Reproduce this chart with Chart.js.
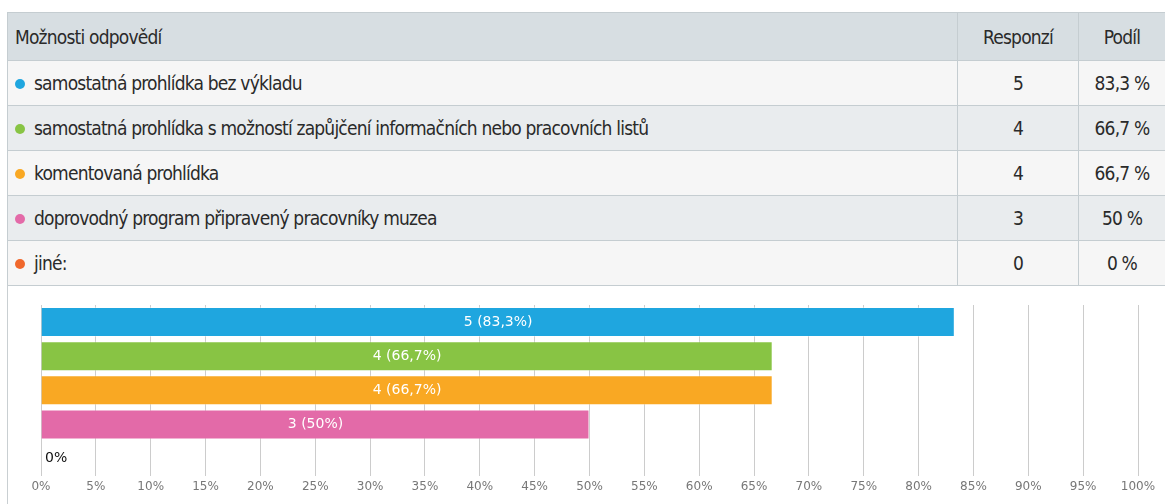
<!DOCTYPE html>
<html>
<head>
<meta charset="utf-8">
<script src="https://cdn.jsdelivr.net/npm/chart.js@4/dist/chart.umd.min.js"></script>
<style>
  html, body { margin: 0; padding: 0; background: #fff; }
  body { width: 1165px; height: 504px; position: relative; overflow: hidden; }
  .frame { position: absolute; left: 7px; top: 285px; width: 1158px; height: 219px; border-left: 1px solid #c9cfd2; box-sizing: border-box; }
  table.answers {
    position: absolute; left: 7px; top: 12px;
    width: 1158px; border-collapse: collapse; table-layout: fixed;
    font-family: "DejaVu Sans Condensed", sans-serif;
    font-size: 19px; letter-spacing: -0.8px; color: #2a2a2a;
  }
  table.answers td, table.answers th {
    border: 1px solid #c5cdd1; padding: 0 7px; font-weight: normal;
    white-space: nowrap; height: 45px; box-sizing: border-box;
  }
  table.answers th { background: #d7dee2; height: 48px; text-align: left; }
  table.answers .num { text-align: center; }
  table.answers tbody tr:nth-child(odd) td { background: #f6f6f6; }
  table.answers tbody tr:nth-child(even) td { background: #e9ecee; }
  .dot { display: inline-block; width: 10px; height: 10px; border-radius: 50%; margin-right: 9px; vertical-align: 1px; }
  .chartbox { position: absolute; left: 8px; top: 285px; width: 1157px; height: 219px; }
</style>
</head>
<body>
<table class="answers">
  <colgroup><col style="width:950px"><col style="width:121px"><col style="width:87px"></colgroup>
  <thead><tr><th>Možnosti odpovědí</th><th class="num">Responzí</th><th class="num">Podíl</th></tr></thead>
  <tbody id="rows"></tbody>
</table>
<div class="frame"></div>
<div class="chartbox"><canvas id="chart"></canvas></div>
<script>
const answers = [
  "samostatná prohlídka bez výkladu",
  "samostatná prohlídka s možností zapůjčení informačních nebo pracovních listů",
  "komentovaná prohlídka",
  "doprovodný program připravený pracovníky muzea",
  "jiné:"
];
const counts = [5, 4, 4, 3, 0];
const shares = [83.3, 66.7, 66.7, 50, 0];
const colors = ["#1fa6df", "#88c444", "#f9a823", "#e36aa8", "#f0682c"];
const xTicks = [0, 5, 10, 15, 20, 25, 30, 35, 40, 45, 50, 55, 60, 65, 70, 75, 80, 85, 90, 95, 100];

const fmt = v => String(v).replace('.', ',');

// table above the chart
const tbody = document.getElementById('rows');
answers.forEach((a, i) => {
  const tr = document.createElement('tr');
  tr.innerHTML = '<td><span class="dot" style="background:' + colors[i] + '"></span>' + a + '</td>' +
    '<td class="num">' + counts[i] + '</td><td class="num">' + fmt(shares[i]) + ' %</td>';
  tbody.appendChild(tr);
});

// bar labels drawn inside the bars, "0%" in black for empty ones
const barLabels = {
  id: 'barLabels',
  afterDatasetsDraw(chart) {
    const ctx = chart.ctx;
    const meta = chart.getDatasetMeta(0);
    ctx.save();
    ctx.font = '14px "DejaVu Sans", sans-serif';
    ctx.textBaseline = 'middle';
    meta.data.forEach((bar, i) => {
      if (shares[i] > 0) {
        ctx.fillStyle = '#fff';
        ctx.textAlign = 'center';
        ctx.fillText(counts[i] + ' (' + fmt(shares[i]) + '%)', (bar.base + bar.x) / 2, bar.y);
      } else {
        ctx.fillStyle = '#111';
        ctx.textAlign = 'left';
        ctx.fillText('0%', chart.chartArea.left + 4, bar.y);
      }
    });
    ctx.restore();
  }
};

new Chart('chart', {
  type: 'bar',
  plugins: [barLabels],
  data: {
    labels: answers,
    datasets: [{
      data: shares,
      backgroundColor: colors,
      borderColor: 'rgba(255,255,255,0.35)',
      borderWidth: 1,
      barPercentage: 0.88,
      categoryPercentage: 1
    }]
  },
  options: {
    indexAxis: 'y',
    responsive: true,
    maintainAspectRatio: false,
    animation: false,
    layout: { padding: { left: 33, right: 27, top: 20, bottom: 6 } },
    plugins: { legend: { display: false }, tooltip: { enabled: false } },
    scales: {
      x: {
        min: 0, max: 100,
        afterBuildTicks: s => { s.ticks = xTicks.map(v => ({ value: v })); },
        ticks: {
          callback: v => v + '%',
          color: '#777',
          padding: 4,
          font: { family: '"DejaVu Sans", sans-serif', size: 12 }
        },
        grid: { color: '#cccccc', drawTicks: false },
        border: { display: false }
      },
      y: { display: false }
    }
  }
});
</script>
</body>
</html>
